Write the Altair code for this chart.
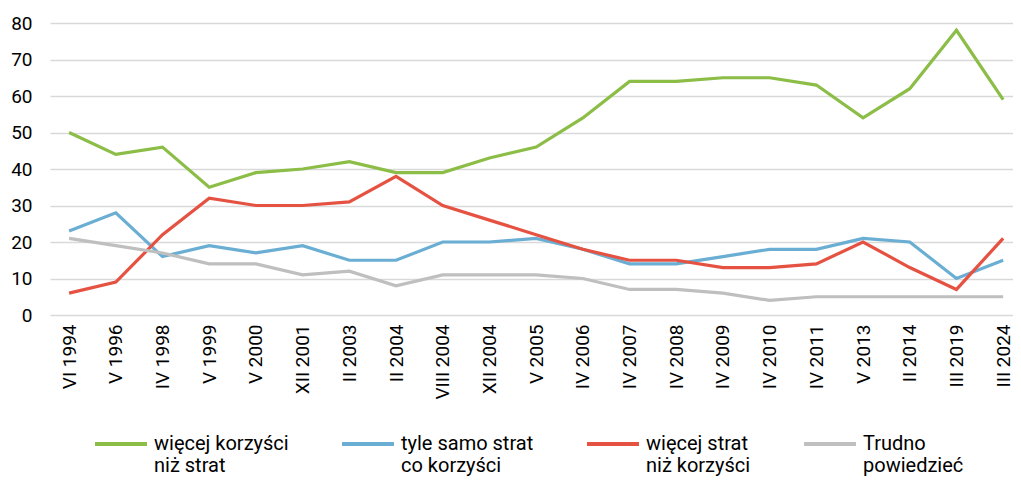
import altair as alt
import pandas as pd

categories = ["VI 1994", "V 1996", "IV 1998", "V 1999", "V 2000", "XII 2001", "II 2003",
              "II 2004", "VIII 2004", "XII 2004", "V 2005", "IV 2006", "IV 2007", "IV 2008",
              "IV 2009", "IV 2010", "IV 2011", "V 2013", "II 2014", "III 2019", "III 2024"]

series_names = ["więcej korzyści\nniż strat", "tyle samo strat\nco korzyści",
                "więcej strat\nniż korzyści", "Trudno\npowiedzieć"]

more_benefits = [50, 44, 46, 35, 39, 40, 42, 39, 39, 43, 46, 54, 64, 64, 65, 65, 63, 54, 62, 78, 59]
equal = [23, 28, 16, 19, 17, 19, 15, 15, 20, 20, 21, 18, 14, 14, 16, 18, 18, 21, 20, 10, 15]
more_losses = [6, 9, 22, 32, 30, 30, 31, 38, 30, 26, 22, 18, 15, 15, 13, 13, 14, 20, 13, 7, 21]
hard_to_say = [21, 19, 17, 14, 14, 11, 12, 8, 11, 11, 11, 10, 7, 7, 6, 4, 5, 5, 5, 5, 5]

colors = ["#8BBD47", "#6BAED3", "#E65242", "#BFBFBF"]

rows = []
for name, vals in zip(series_names, [more_benefits, equal, more_losses, hard_to_say]):
    for c, v in zip(categories, vals):
        rows.append({"okres": c, "seria": name, "wartosc": v})
df = pd.DataFrame(rows)

chart = alt.Chart(df).mark_line(strokeWidth=3.2).encode(
    x=alt.X("okres:N", sort=categories,
            scale=alt.Scale(type="point", padding=0.31, align=0.66),
            axis=alt.Axis(title=None, labelAngle=-90, labelAlign="right", labelBaseline="middle",
                          labelFontSize=19, labelColor="#000000", labelFont="Roboto",
                          ticks=False, domain=False, labelPadding=9)),
    y=alt.Y("wartosc:Q", scale=alt.Scale(domain=[0, 80]),
            axis=alt.Axis(title=None, values=list(range(0, 81, 10)), labelFontSize=19,
                          labelColor="#000000", labelFont="Roboto", ticks=False, domain=False,
                          labelPadding=18, gridColor="#D9D9D9", gridWidth=1.5)),
    color=alt.Color("seria:N", sort=series_names,
                    scale=alt.Scale(domain=series_names, range=colors),
                    legend=alt.Legend(title=None, orient="none", legendX=43, legendY=393,
                                      direction="horizontal", columns=4,
                                      symbolType="stroke", symbolSize=2700,
                                      symbolStrokeWidth=4, labelFontSize=20, labelFont="Roboto",
                                      labelColor="#000000", labelLimit=300,
                                      labelExpr="split(datum.label, '\\n')",
                                      labelBaseline="middle", labelOffset=5,
                                      columnPadding=45)),
).properties(
    width=963, height=292,
    autosize=alt.AutoSizeParams(type="none"),
    padding={"left": 42, "top": 15, "right": 0, "bottom": 161},
).configure_view(stroke=None)

chart.save("out.html", embed_options={"renderer": "svg", "actions": False})
